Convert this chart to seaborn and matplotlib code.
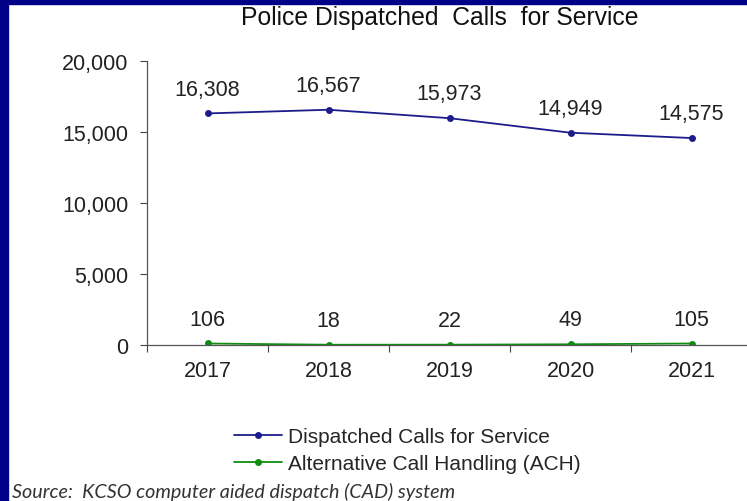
import pandas as pd
import matplotlib.pyplot as plt
import seaborn as sns
from matplotlib.patches import Rectangle
from matplotlib.ticker import FuncFormatter

# Chart data
years = ['2017', '2018', '2019', '2020', '2021']
dispatched = [16308, 16567, 15973, 14949, 14575]
ach = [106, 18, 22, 49, 105]

df = pd.DataFrame({
    'year': years * 2,
    'calls': dispatched + ach,
    'series': ['Dispatched Calls for Service'] * 5 + ['Alternative Call Handling (ACH)'] * 5,
})

sns.set_theme(style='white')
plt.rcParams['font.family'] = ['Liberation Sans', 'DejaVu Sans']

fig = plt.figure(figsize=(7.47, 5.02), dpi=100)
ax = fig.add_axes([147 / 747, 1 - 346 / 502, 605 / 747, 284 / 502])

colors = {'Dispatched Calls for Service': '#1c1c8c',
          'Alternative Call Handling (ACH)': '#108c10'}
sns.lineplot(data=df, x='year', y='calls', hue='series', palette=colors,
             marker='o', markersize=5, markeredgewidth=0, linewidth=1.3,
             sort=False, ax=ax, legend=True)

ax.set_ylim(0, 20000)
ax.set_xlim(-0.5, 4.5)
ax.set_yticks([0, 5000, 10000, 15000, 20000])
ax.yaxis.set_major_formatter(FuncFormatter(lambda v, p: f'{int(v):,}'))
ax.set_xticks(range(5))
ax.set_xticks([i - 0.5 for i in range(6)], minor=True)
ax.tick_params(axis='x', which='major', length=0, labelsize=15.5, pad=11, colors='#222222')
ax.tick_params(axis='x', which='minor', length=5, width=0.8, color='#444444', direction='out', bottom=True)
ax.tick_params(axis='y', length=5, width=0.8, color='#444444', direction='out', left=True,
               labelsize=15.5, pad=8.5, labelcolor='#222222')
ax.set_xlabel('')
ax.set_ylabel('')
for s in ['top', 'right']:
    ax.spines[s].set_visible(False)
for s in ['left', 'bottom']:
    ax.spines[s].set_color('#555555')
    ax.spines[s].set_linewidth(0.9)

# data labels
for i, v in enumerate(dispatched):
    ax.annotate(f'{v:,}', (i, v), xytext=(0, 10), textcoords='offset points',
                ha='center', va='bottom', fontsize=15.5, color='#222222')
for i, v in enumerate(ach):
    ax.annotate(f'{v:,}', (i, v), xytext=(0, 10), textcoords='offset points',
                ha='center', va='bottom', fontsize=15.5, color='#222222')

fig.text(440 / 747, 1 - 18 / 502, 'Police Dispatched  Calls  for Service',
         ha='center', va='center', fontsize=17.8, color='#111111')

leg = ax.legend(loc='center', bbox_to_anchor=(407 / 747, 1 - 451 / 502),
                bbox_transform=fig.transFigure, frameon=False, fontsize=15,
                handlelength=2.3, labelspacing=0.4, handletextpad=0.3)

fig.text(12 / 747, 1 - 492 / 502, 'Source:  KCSO computer aided dispatch (CAD) system',
         ha='left', va='center', fontsize=14.2, style='italic', color='#333333',
         family=['Lato', 'DejaVu Sans'])

# blue frame on the left and top
fig.patches.append(Rectangle((0, 0), 8 / 747, 1, transform=fig.transFigure,
                             color='#000088', zorder=10))
fig.patches.append(Rectangle((0, 1 - 5 / 502), 1, 5 / 502, transform=fig.transFigure,
                             color='#000088', zorder=10))

fig.savefig('out.png', dpi=100)
